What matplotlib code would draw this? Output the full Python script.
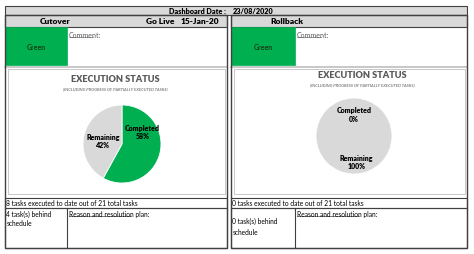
import matplotlib
matplotlib.use('Agg')
import matplotlib.pyplot as plt
from matplotlib.patches import Rectangle

plt.rcParams['font.family'] = ['Lato', 'DejaVu Sans']

# ---- data -------------------------------------------------------------
dashboard_date = '23/08/2020'
panels = ['Cutover', 'Rollback']
go_live = '15-Jan-20'
status = ['Green', 'Green']
slice_names = ['Completed', 'Remaining']
completed_pct = [58, 0]
remaining_pct = [42, 100]
tasks_done = [8, 0]
tasks_total = [21, 21]
tasks_behind = [4, 0]

GREEN = '#00B050'
GREY = '#D9D9D9'
LINE = '#404040'
W, H = 474, 255

fig = plt.figure(figsize=(W / 100, H / 100), dpi=100)
ax = fig.add_axes([0, 0, 1, 1])
ax.set_xlim(0, W)
ax.set_ylim(H, 0)
ax.axis('off')


def box(x0, y0, x1, y1, fc='none', ec=LINE, lw=0.8, z=1):
    ax.add_patch(Rectangle((x0, y0), x1 - x0, y1 - y0, fc=fc, ec=ec, lw=lw, zorder=z))


def txt(x, y, s, size=5, ha='left', va='center', **kw):
    ax.text(x, y, s, fontsize=size, ha=ha, va=va, **kw)


# header row
box(5, 7, 467, 16, fc=GREY)
txt(226, 11.5, 'Dashboard Date :', 5.2, ha='right', weight='heavy')
txt(233, 11.5, dashboard_date, 5.2, weight='heavy')

# panel geometry: (left, right, status box right edge)
geo = [(5, 227, 67), (231, 467, 295)]
pie_geo = [(122, 145, 39, 115, 80, 89), (354, 137, 38, 362, 76, 85)]
label_pos = [[(0.52, 0.33), (-0.49, 0.08)], [(0.0, 0.58), (0.07, -0.68)]]

for i, (x0, x1, xs) in enumerate(geo):
    # title row
    box(x0, 16, x1, 28, fc=GREY)
    # status + comment
    box(x0, 28, xs, 66, fc=GREEN, ec=GREEN, lw=0.5)
    txt((x0 + xs) / 2, 47, status[i], 5, ha='center', weight='bold', color='#143d14')
    txt(xs + 2, 31.5, 'Comment:', 5, va='top', color='#595959')
    ax.plot([xs + 2, xs + 26], [37.5, 37.5], color='#595959', lw=0.4)
    # chart section
    ax.plot([x0, x1], [67.5, 67.5], color='#BFBFBF', lw=1.2)
    box(x0 + 3, 70, x1 - 2, 195, ec='#BFBFBF', lw=0.6)
    # tasks executed row
    box(x0, 199, x1, 209)
    txt(x0 + 1.5, 204, f'{tasks_done[i]} tasks executed to date out of {tasks_total[i]} total tasks', 4.8)
    # behind schedule / reason
    box(x0, 209, x1, 249)
    ax.plot([xs, xs], [209, 249], color=LINE, lw=0.8)
    ty = 214 if i == 0 else 221
    txt(x0 + 1.5, ty, f'{tasks_behind[i]} task(s) behind', 4.8)
    txt(x0 + 1.5, ty + (10 if i == 0 else 12), 'schedule', 4.8)
    txt(xs + 2, 211.5, 'Reason and resolution plan:', 4.8, va='top')
    ax.plot([xs + 2, xs + 64], [217, 217], color='#202020', lw=0.4)
    # outer panel border
    box(x0, 16, x1, 249, lw=1.0, z=3)

    # execution status pie
    cx, cy, r, tx, ty1, ty2 = pie_geo[i]
    txt(tx, ty1, 'EXECUTION STATUS', 6.6, ha='center', weight='heavy', color='#595959')
    txt(tx, ty2, '(INCLUDING PROGRESS OF PARTIALLY EXECUTED TASKS)', 3.0, ha='center',
        style='italic', weight='bold', color='#7F7F7F')
    pax = fig.add_axes([(cx - r) / W, 1 - (cy + r) / H, 2 * r / W, 2 * r / H])
    vals = [completed_pct[i], remaining_pct[i]]
    wedges, texts = pax.pie(vals, colors=[GREEN, GREY], startangle=90, counterclock=False,
                            labels=[f'{n}\n{v}%' for n, v in zip(slice_names, vals)],
                            labeldistance=0.55,
                            wedgeprops=dict(edgecolor='white', linewidth=0.6),
                            textprops=dict(fontsize=5, weight='heavy', ha='center', va='center'))
    for t, p in zip(texts, label_pos[i]):
        t.set_position(p)
        t.set_horizontalalignment('center')
    pax.set_xlim(-1, 1)
    pax.set_ylim(-1, 1)
    pax.set_aspect('auto')
    pax.axis('off')

# cutover-row texts
txt(55, 22, panels[0], 6, ha='center', weight='heavy')
txt(160, 22, 'Go Live', 6, ha='center', weight='heavy')
txt(200, 22, go_live, 6, ha='center', weight='heavy')
txt(287, 22, panels[1], 6, ha='center', weight='heavy')

fig.savefig('out.png', dpi=100)
